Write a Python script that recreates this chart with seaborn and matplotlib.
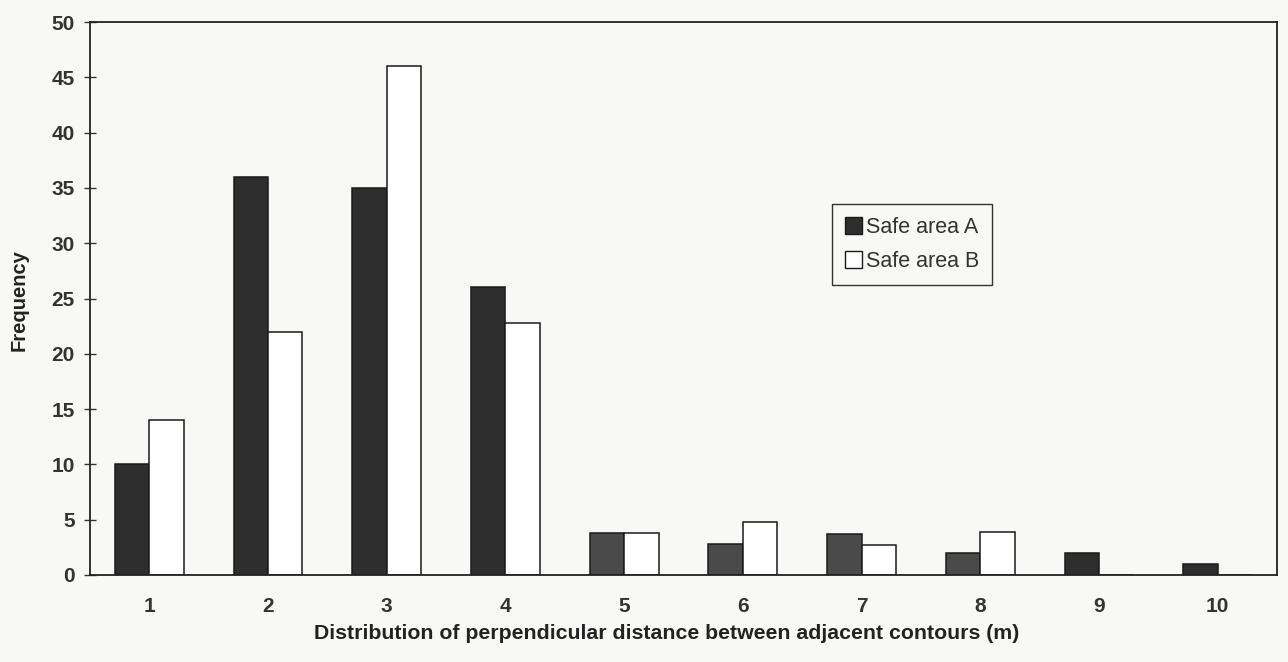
import matplotlib
matplotlib.use("Agg")
import matplotlib.pyplot as plt
import seaborn as sns
import pandas as pd
from matplotlib.patches import Patch

categories = ["1", "2", "3", "4", "5", "6", "7", "8", "9", "10"]
safe_a = [10, 36, 35, 26, 3.8, 2.8, 3.7, 2.0, 2.0, 1.0]
safe_b = [14, 22, 46, 22.8, 3.8, 4.8, 2.7, 3.9, 0, 0]
series_names = ["Safe area A", "Safe area B"]
y_ticks = list(range(0, 51, 5))

df = pd.DataFrame({
    "distance": categories * 2,
    "freq": safe_a + safe_b,
    "area": [series_names[0]] * len(categories) + [series_names[1]] * len(categories),
})

sns.set_theme(style="white")
plt.rcParams["font.family"] = ["Liberation Sans", "DejaVu Sans"]

bg = "#f8f8f6"
fig = plt.figure(figsize=(12.88, 6.62), dpi=100, facecolor=bg)
ax = fig.add_axes([90 / 1288, 1 - 575 / 662, (1277 - 90) / 1288, (575 - 22) / 662])
ax.set_facecolor(bg)

pal = {series_names[0]: "#2e2e2e", series_names[1]: "#ffffff"}
sns.barplot(data=df, x="distance", y="freq", hue="area", order=categories,
            hue_order=series_names, palette=pal, saturation=1, width=0.58,
            edgecolor="#1a1a1a", linewidth=1.1, ax=ax, legend=False)

# lighter grey shading for some of the A bars, as in the scan
light_idx = [4, 5, 6, 7]
for i, p in enumerate(ax.patches[:len(categories)]):
    if i in light_idx:
        p.set_facecolor("#4a4a4a")

ax.set_xlim(-0.5, len(categories) - 0.5)
ax.set_ylim(0, 50)
ax.set_yticks(y_ticks)
ax.set_yticklabels([str(t) for t in y_ticks], fontsize=15, fontweight="bold", color="#333333")
ax.set_xticks(range(len(categories)))
ax.set_xticklabels(categories, fontsize=15, fontweight="bold", color="#333333")
ax.set_xticks([i + 0.5 for i in range(len(categories) - 1)], minor=True)
ax.tick_params(axis="x", which="major", length=0, pad=16)
ax.tick_params(axis="x", which="minor", length=9, direction="inout", width=1, color="#333333")
ax.tick_params(axis="y", which="major", length=8, direction="inout", width=1, color="#333333", pad=7, left=True)

for s in ax.spines.values():
    s.set_visible(True)
    s.set_color("#222222")
    s.set_linewidth(1.3)

ax.set_xlabel("Distribution of perpendicular distance between adjacent contours (m)",
              fontsize=15.3, fontweight="bold", color="#222222")
ax.xaxis.set_label_coords(0.486, -0.088)
ax.set_ylabel("Frequency", fontsize=14.5, fontweight="bold", color="#222222")
ax.yaxis.set_label_coords(-0.052, 0.497)

handles = [Patch(facecolor="#2e2e2e", edgecolor="#1a1a1a", label=series_names[0]),
           Patch(facecolor="#ffffff", edgecolor="#1a1a1a", label=series_names[1])]
leg = ax.legend(handles=handles, loc="upper left", bbox_to_anchor=(0.625, 0.671),
                frameon=True, fancybox=False, edgecolor="#333333", framealpha=1,
                fontsize=15.5, handlelength=0.8, handleheight=0.8, handletextpad=0.2,
                borderpad=0.6, labelspacing=0.6, borderaxespad=0)
leg.get_frame().set_facecolor(bg)
leg.get_frame().set_linewidth(1)
for t in leg.get_texts():
    t.set_color("#333333")

fig.savefig("out.png", dpi=100, facecolor=bg)
